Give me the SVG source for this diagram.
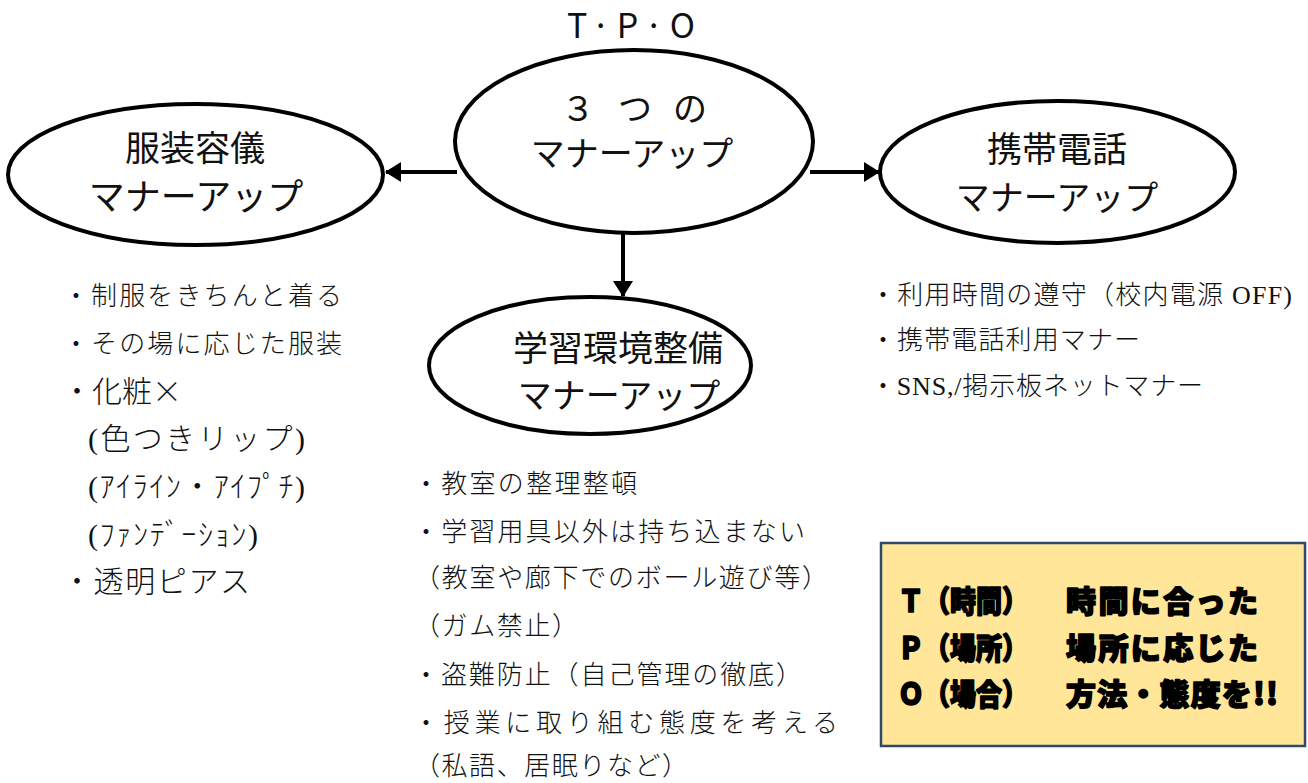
<svg xmlns="http://www.w3.org/2000/svg" width="1308" height="783" viewBox="0 0 1308 783">
  <defs>
    <marker id="ah" viewBox="0 0 16 20" refX="15" refY="10" markerWidth="16" markerHeight="20" markerUnits="userSpaceOnUse" orient="auto">
      <path d="M0,0 L16,10 L0,20 Z" fill="#000"/>
    </marker>
    <style>
      .node { fill: #fff; stroke: #000; stroke-width: 4; }
      .conn { stroke: #000; stroke-width: 4; fill: none; }
      .title { font-family: "Noto Sans CJK JP", "Noto Sans", sans-serif; fill: #111; }
      .list { font-family: "Liberation Serif", "Noto Sans CJK JP", serif; font-weight: 300; fill: #111; }
      .box { font-family: "Noto Sans CJK JP", sans-serif; font-weight: 900; fill: #000; stroke: #000; stroke-width: 1.6; stroke-linejoin: round; font-size: 30px; }
    </style>
  </defs>
  <rect width="1308" height="783" fill="#fff"/>

  <g id="connectors">
    <line class="conn" x1="457" y1="172" x2="386" y2="172" marker-end="url(#ah)"/>
    <line class="conn" x1="810" y1="172" x2="879" y2="172" marker-end="url(#ah)"/>
    <line class="conn" x1="623" y1="234" x2="623" y2="296" marker-end="url(#ah)"/>
  </g>

  <g id="tpo-label">
    <text class="title" x="567" y="38" font-size="34" textLength="128" lengthAdjust="spacing">T·P·O</text>
  </g>

  <g id="node-center">
    <ellipse class="node" cx="634" cy="141.5" rx="179" ry="91.5"/>
    <text class="title" font-size="34" y="121"><tspan x="561">３</tspan><tspan x="618">つ</tspan><tspan x="673">の</tspan></text>
    <text class="title" font-size="34" x="632" y="166" text-anchor="middle">マナーアップ</text>
  </g>

  <g id="node-left">
    <ellipse class="node" cx="195.5" cy="174.5" rx="187.5" ry="70.5"/>
    <text class="title" font-size="35" x="195" y="161" text-anchor="middle">服装容儀</text>
    <text class="title" font-size="36" x="196" y="210" text-anchor="middle">マナーアップ</text>
  </g>

  <g id="node-right">
    <ellipse class="node" cx="1057.5" cy="172" rx="177.5" ry="71"/>
    <text class="title" font-size="35" x="1057" y="162" text-anchor="middle">携帯電話</text>
    <text class="title" font-size="34" x="1057" y="210" text-anchor="middle">マナーアップ</text>
  </g>

  <g id="node-bottom">
    <ellipse class="node" cx="590" cy="365.5" rx="161" ry="68.5"/>
    <text class="title" font-size="35" x="618" y="361" text-anchor="middle">学習環境整備</text>
    <text class="title" font-size="34" x="619" y="408" text-anchor="middle">マナーアップ</text>
  </g>

  <g id="list-left" class="list">
    <text x="63" y="305" font-size="26" textLength="279" lengthAdjust="spacing">・制服をきちんと着る</text>
    <text x="63" y="353" font-size="26" textLength="279" lengthAdjust="spacing">・その場に応じた服装</text>
    <text x="62" y="402" font-size="30"><tspan font-family="Noto Sans CJK JP, sans-serif">・化粧×</tspan></text>
    <text x="88" y="449" font-size="30" textLength="217" lengthAdjust="spacing">(色つきリップ)</text>
    <text x="88" y="497" font-size="30" textLength="217" lengthAdjust="spacing">(ｱｲﾗｲﾝ・ｱｲﾌﾟﾁ)</text>
    <text x="88" y="545" font-size="30" textLength="170" lengthAdjust="spacing">(ﾌｧﾝﾃﾞｰｼｮﾝ)</text>
    <text x="62" y="592" font-size="30" textLength="188" lengthAdjust="spacing">・透明ピアス</text>
  </g>

  <g id="list-bottom" class="list" font-size="26">
    <text x="413" y="493" textLength="224" lengthAdjust="spacing">・教室の整理整頓</text>
    <text x="413" y="541" textLength="392" lengthAdjust="spacing">・学習用具以外は持ち込まない</text>
    <text x="414" y="587" textLength="414" lengthAdjust="spacing">（教室や廊下でのボール遊び等）</text>
    <text x="414" y="635" textLength="164" lengthAdjust="spacing">（ガム禁止）</text>
    <text x="413" y="684" textLength="389" lengthAdjust="spacing">・盗難防止（自己管理の徹底）</text>
    <text x="413" y="732" textLength="425" lengthAdjust="spacing">・授業に取り組む態度を考える</text>
    <text x="414" y="775" textLength="274" lengthAdjust="spacing">（私語、居眠りなど）</text>
  </g>

  <g id="list-right" class="list" font-size="26">
    <text x="870" y="304" textLength="422" lengthAdjust="spacing">・利用時間の遵守（校内電源 OFF)</text>
    <text x="870" y="349" textLength="270" lengthAdjust="spacing">・携帯電話利用マナー</text>
    <text x="870" y="395" textLength="333" lengthAdjust="spacing">・SNS,/掲示板ネットマナー</text>
  </g>

  <g id="tpo-box">
    <rect x="881" y="543" width="424" height="203" fill="#FFE699" stroke="#2E4A6B" stroke-width="2.5"/>
    <text class="box" x="898" y="612" textLength="130" lengthAdjust="spacingAndGlyphs">Ｔ（時間）</text>
    <text class="box" x="1066" y="612" textLength="192" lengthAdjust="spacing">時間に合った</text>
    <text class="box" x="898" y="659" textLength="130" lengthAdjust="spacingAndGlyphs">Ｐ（場所）</text>
    <text class="box" x="1066" y="659" textLength="192" lengthAdjust="spacing">場所に応じた</text>
    <text class="box" x="898" y="705" textLength="130" lengthAdjust="spacingAndGlyphs">Ｏ（場合）</text>
    <text class="box" x="1066" y="705" textLength="212" lengthAdjust="spacing">方法・態度を!!</text>
  </g>
</svg>
